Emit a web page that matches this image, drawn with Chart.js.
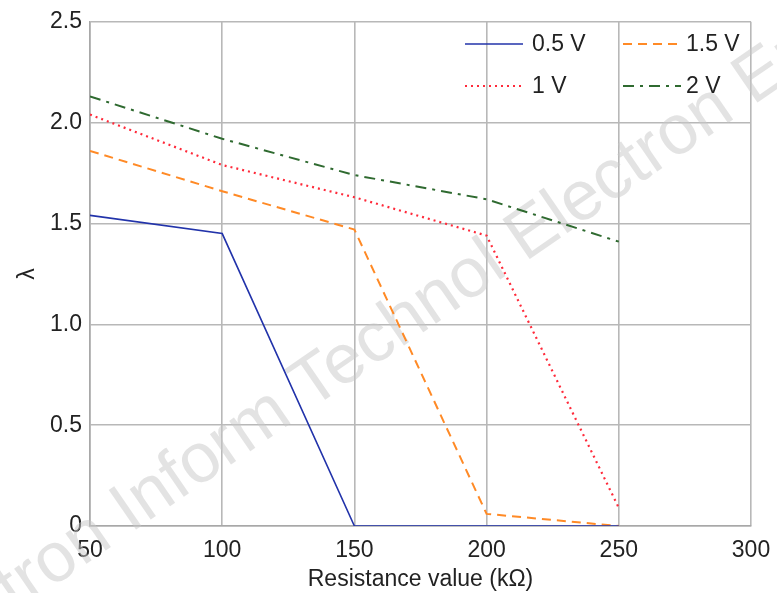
<!DOCTYPE html>
<html>
<head>
<meta charset="utf-8">
<script src="https://cdn.jsdelivr.net/npm/chart.js@4.4.1/dist/chart.umd.min.js"></script>
<style>
  html, body { margin: 0; padding: 0; background: #fff; }
  #wrap { width: 777px; height: 593px; }
</style>
</head>
<body>
<div id="wrap"><canvas id="chart" width="777" height="593"></canvas></div>
<script>
"use strict";

const resistance = [50, 100, 150, 200, 250];
const lambda05 = [1.54, 1.45, 0, 0, 0];
const lambda15 = [1.86, 1.66, 1.47, 0.06, 0];
const lambda10 = [2.04, 1.79, 1.63, 1.44, 0.09];
const lambda20 = [2.13, 1.92, 1.74, 1.62, 1.41];
const seriesLabels = ['0.5 V', '1.5 V', '1 V', '2 V'];

const FONT = "'Liberation Sans', Arial, sans-serif";

const toPoints = ys => resistance.map((x, i) => ({ x, y: ys[i] }));

// two-column legend drawn inside the plot, like the original figure
const boxLegend = {
    id: 'boxLegend',
    afterDatasetsDraw(chart) {
        const ctx = chart.ctx;
        const spots = [[465, 44], [623, 44], [465, 86], [623, 86]];
        chart.data.datasets.forEach((ds, i) => {
            const [x, y] = spots[i];
            ctx.save();
            ctx.strokeStyle = ds.borderColor;
            ctx.lineWidth = ds.borderWidth;
            ctx.setLineDash(ds.borderDash || []);
            ctx.beginPath();
            ctx.moveTo(x, y);
            ctx.lineTo(x + 58, y);
            ctx.stroke();
            ctx.setLineDash([]);
            ctx.fillStyle = '#222';
            ctx.font = `23px ${FONT}`;
            ctx.textBaseline = 'middle';
            ctx.fillText(ds.label, x + (i % 2 ? 63 : 67), y + 1);
            ctx.restore();
        });
    }
};

const watermark = {
    id: 'watermark',
    beforeDatasetsDraw(chart) {
        const ctx = chart.ctx;
        ctx.save();
        ctx.translate(410, 318);
        ctx.rotate(-34.5 * Math.PI / 180);
        ctx.fillStyle = 'rgba(200,200,200,0.5)';
        ctx.font = `70px ${FONT}`;
        ctx.textAlign = 'center';
        ctx.textBaseline = 'middle';
        ctx.fillText('ctron Inform Technol Electron Eng', 0, 0);
        ctx.restore();
    }
};

new Chart(document.getElementById('chart'), {
    type: 'line',
    data: {
        datasets: [
            { label: seriesLabels[0], data: toPoints(lambda05), borderColor: '#2233aa', borderWidth: 1.6 },
            { label: seriesLabels[1], data: toPoints(lambda15), borderColor: '#ff8a26', borderWidth: 2, borderDash: [9, 6] },
            { label: seriesLabels[2], data: toPoints(lambda10), borderColor: '#ff2a3a', borderWidth: 2.2, borderDash: [2, 4] },
            { label: seriesLabels[3], data: toPoints(lambda20), borderColor: '#2f6a30', borderWidth: 2, borderDash: [11, 6, 3, 6] }
        ]
    },
    options: {
        responsive: false,
        animation: false,
        layout: { padding: { left: 0, right: 26, top: 21, bottom: 0 } },
        elements: { point: { radius: 0 }, line: { tension: 0, fill: false } },
        plugins: { legend: { display: false }, tooltip: { enabled: false } },
        scales: {
            x: {
                type: 'linear',
                min: 50,
                max: 300,
                afterFit: s => { s.height = 67; s.paddingLeft = 0; s.paddingRight = 0; },
                ticks: { stepSize: 50, color: '#222', font: { family: FONT, size: 23 }, padding: 11, maxRotation: 0 },
                grid: { color: '#b8b8b8', lineWidth: 1.6, drawTicks: false },
                border: { color: '#a8a8a8', width: 1.6 },
                title: { display: true, text: 'Resistance value (kΩ)', color: '#222', font: { family: FONT, size: 23 }, padding: { top: 0, bottom: 0 } }
            },
            y: {
                min: 0,
                max: 2.5,
                afterFit: s => { s.width = 90; },
                ticks: {
                    stepSize: 0.5,
                    color: '#222',
                    font: { family: FONT, size: 23 },
                    padding: 8,
                    callback: v => v === 0 ? '0' : v.toFixed(1)
                },
                grid: { color: '#b8b8b8', lineWidth: 1.6, drawTicks: false },
                border: { color: '#a8a8a8', width: 1.6 },
                title: { display: true, text: 'λ', color: '#222', font: { family: FONT, size: 23 }, padding: { top: 14, bottom: 0 } }
            }
        }
    },
    plugins: [watermark, boxLegend]
});
</script>
</body>
</html>
